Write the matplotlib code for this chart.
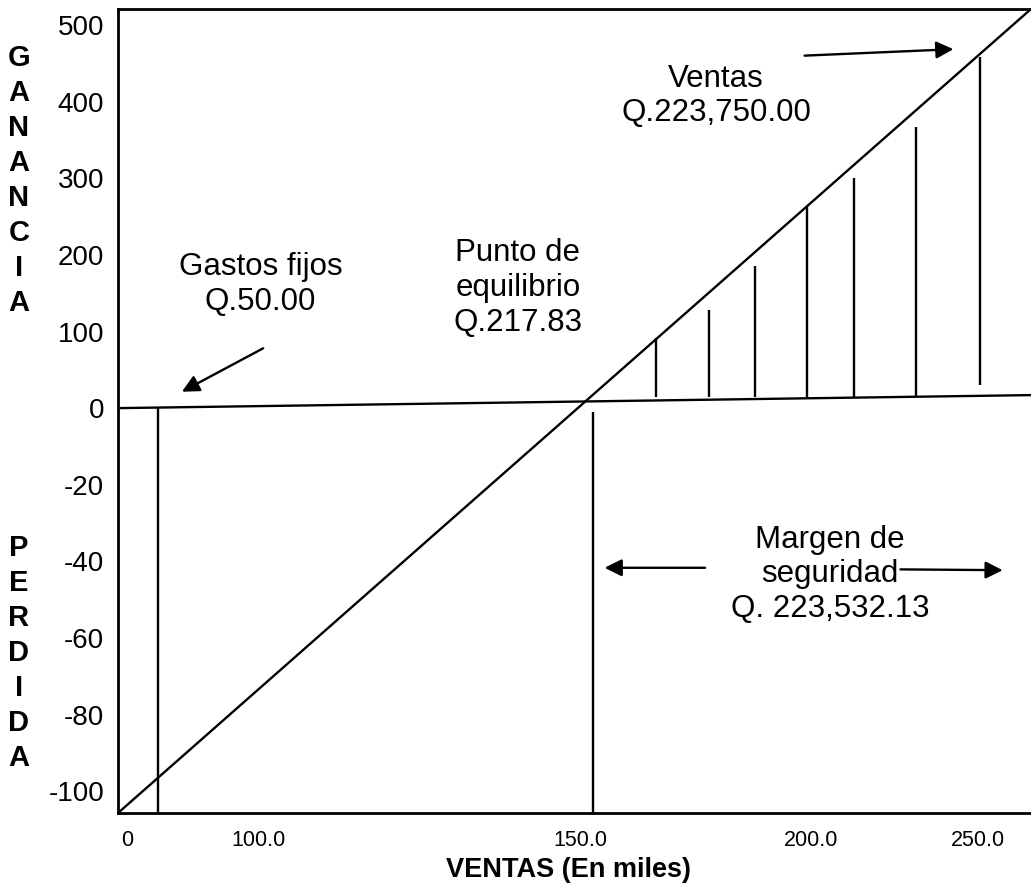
import numpy as np
import matplotlib
matplotlib.use("Agg")
import matplotlib.pyplot as plt

plt.rcParams["font.family"] = ["Liberation Sans", "DejaVu Sans"]

# y ticks (hand drawn chart: positive side in 100s, negative side in 20s)
y_ticks = [500, 400, 300, 200, 100, 0, -20, -40, -60, -80, -100]
# x ticks (irregular spacing on the original drawing)
x_ticks = [0, 100, 150, 200, 250]
x_labels = ["0", "100.0", "150.0", "200.0", "250.0"]
x_tick_pos = [127, 258, 580, 811, 978]   # where each tick sits on the drawing

x_lim = (-6.9, 265.9)
y_lim = (-105.7, 521)

# ventas line (corner to corner) and the horizontal base line
ventas_x = [-6.9, 265.9]
ventas_y = [-105.7, 521]
base_x = [-6.9, 265.9]
base_y = [0, 17]

# gastos fijos and punto de equilibrio verticals
fijos_x = 23.7
equilibrio_x = 152.8

# margen de seguridad hatching lines
margen_x = [166.4, 177.9, 187.8, 199.1, 212.9, 231.4, 250.6]
margen_top = [91, 128, 185, 264, 300, 367, 458]
margen_bot = [14, 14, 14, 14, 14, 14, 30]


def yfwd(v):
    v = np.asarray(v, dtype=float)
    return np.where(v >= 0, v / 100.0, v / 20.0)


def yinv(p):
    p = np.asarray(p, dtype=float)
    return np.where(p >= 0, p * 100.0, p * 20.0)


# piecewise x scale through the drawn tick positions
_xv = [-50.0] + x_ticks + [320.0]
_xp = [127 - 131 * 0.5] + x_tick_pos + [978 + 167 / 50 * 70]


def xfwd(v):
    return np.interp(v, _xv, _xp)


def xinv(p):
    return np.interp(p, _xp, _xv)


fig = plt.figure(figsize=(10.31, 8.93), dpi=100)
ax = fig.add_axes([118 / 1031, 80 / 893, 913 / 1031, 804 / 893])
ax.set_yscale("function", functions=(yfwd, yinv))
ax.set_xscale("function", functions=(xfwd, xinv))
ax.set_xlim(*x_lim)
ax.set_ylim(*y_lim)

lw = 1.7
ax.plot(ventas_x, ventas_y, color="black", lw=lw)
ax.plot(base_x, base_y, color="black", lw=lw)
ax.vlines(fijos_x, y_lim[0], 0, color="black", lw=lw)
ax.vlines(equilibrio_x, y_lim[0], -1, color="black", lw=lw)
ax.vlines(margen_x, margen_bot, margen_top, color="black", lw=lw)

ax.set_yticks(y_ticks)
ax.set_yticklabels([str(v) for v in y_ticks], fontsize=20)
ax.set_xticks(x_ticks)
ax.set_xticklabels(x_labels, fontsize=15.5)
ax.tick_params(length=0)
ax.tick_params(axis="y", pad=10)
ax.tick_params(axis="x", pad=12)
ax.minorticks_off()
ax.spines["right"].set_visible(False)
for s in ("left", "top", "bottom"):
    ax.spines[s].set_linewidth(2)

ax.set_xlabel("VENTAS (En miles)", fontsize=19.5, fontweight="bold")
ax.xaxis.label.set_va("center")
ax.xaxis.set_label_coords(0.493, -0.071)

# texts
txt = dict(transform=ax.transAxes, ha="center", va="center", fontsize=22.5)
ax.text(0.156, 0.657, "Gastos fijos\nQ.50.00", **txt)
ax.text(0.438, 0.653, "Punto de\nequilibrio\nQ.217.83", **txt)
ax.text(0.655, 0.892, "Ventas\nQ.223,750.00", **txt)
ax.text(0.780, 0.297, "Margen de\nseguridad\nQ. 223,532.13", **txt)

arrow = dict(arrowstyle="-|>", color="black", lw=1.7, mutation_scale=26,
             shrinkA=0, shrinkB=0)
for tail, head in [((0.159, 0.578), (0.070, 0.524)),
                   ((0.752, 0.942), (0.915, 0.950)),
                   ((0.643, 0.305), (0.533, 0.305)),
                   ((0.857, 0.303), (0.969, 0.302))]:
    ax.annotate("", xy=head, xytext=tail, xycoords="axes fraction",
                textcoords="axes fraction", arrowprops=arrow)

# vertical stacked axis words
for i, ch in enumerate("GANANCIA"):
    fig.text(19 / 1031, 1 - (58 + 35.0 * i) / 893, ch, ha="center", va="center",
             fontsize=21, fontweight="bold")
for i, ch in enumerate("PERDIDA"):
    fig.text(19 / 1031, 1 - (548 + 35.0 * i) / 893, ch, ha="center", va="center",
             fontsize=21, fontweight="bold")

fig.savefig("out.png", dpi=100)
